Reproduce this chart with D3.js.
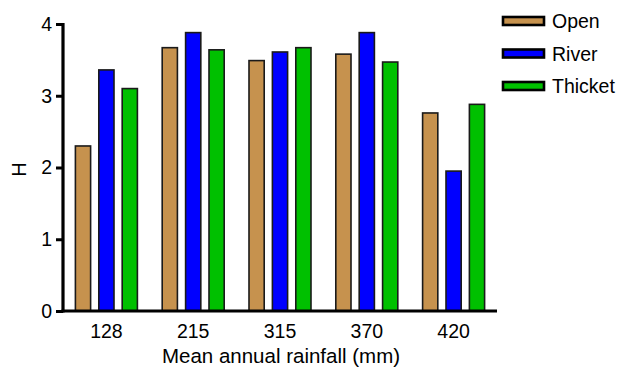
<!DOCTYPE html>
<html>
<head>
<meta charset="utf-8">
<script src="https://cdn.jsdelivr.net/npm/d3@7"></script>
<style>
  body { margin: 0; background: #fff; }
  svg text { font-family: "Liberation Sans", Arial, sans-serif; fill: #000; }
</style>
</head>
<body>
<svg id="chart" width="618" height="367"></svg>
<script>
// rainfall categories and diversity (H) per habitat
var categories = ['128', '215', '315', '370', '420'];
var seriesNames = ['Open', 'River', 'Thicket'];
var openValues = [2.30, 3.67, 3.49, 3.58, 2.76];
var riverValues = [3.36, 3.88, 3.61, 3.88, 1.95];
var thicketValues = [3.10, 3.64, 3.67, 3.47, 2.88];
var yTicks = [0, 1, 2, 3, 4];
var colors = ['#C6924E', '#0000FF', '#00C000'];

var seriesValues = [openValues, riverValues, thicketValues];

var
svg = d3.select('#chart'),
plotLeft = 63,
plotRight = 497,
plotTop = 24,
plotBottom = 311;

var x0 = d3.scaleBand().domain(categories).range([plotLeft, plotRight]).padding(0);
var x1 = d3.scaleBand().domain(seriesNames)
    .range([x0.bandwidth() / 2 - 31, x0.bandwidth() / 2 + 31])
    .paddingInner(0.35).paddingOuter(0);
var y = d3.scaleLinear().domain([0, 4]).range([plotBottom, plotTop]);
var color = d3.scaleOrdinal().domain(seriesNames).range(colors);

// bars
var groups = svg.append('g').selectAll('g')
    .data(categories)
    .enter().append('g')
    .attr('transform', function (d) { return 'translate(' + x0(d) + ',0)'; });

groups.selectAll('rect')
    .data(function (d, i) {
        return seriesNames.map(function (s, j) { return {key: s, value: seriesValues[j][i]}; });
    })
    .enter().append('rect')
    .attr('x', function (d) { return x1(d.key); })
    .attr('width', x1.bandwidth())
    .attr('y', function (d) { return y(d.value); })
    .attr('height', function (d) { return y(0) - y(d.value); })
    .attr('fill', function (d) { return color(d.key); })
    .attr('stroke', '#1a1a1a')
    .attr('stroke-width', 1.6);

// y axis
var yAxis = svg.append('g')
    .attr('transform', 'translate(' + plotLeft + ',0)')
    .call(d3.axisLeft(y).tickValues(yTicks).tickFormat(d3.format('d')).tickSize(7).tickPadding(4));
yAxis.select('.domain').attr('stroke', '#000').attr('stroke-width', 3.2)
    .attr('d', 'M0,' + (plotTop - 1) + 'V' + (plotBottom + 1.5));
yAxis.selectAll('.tick line').attr('stroke', '#000').attr('stroke-width', 3);
yAxis.selectAll('.tick text').attr('font-size', 19.5).style('font-family', '"Liberation Sans", Arial, sans-serif');

// x axis
var xAxis = svg.append('g')
    .attr('transform', 'translate(0,' + plotBottom + ')')
    .call(d3.axisBottom(x0).tickSize(0).tickPadding(13));
xAxis.select('.domain').attr('stroke', '#000').attr('stroke-width', 3.2)
    .attr('d', 'M' + (plotLeft - 1.5) + ',0H' + plotRight);
xAxis.selectAll('.tick text').attr('font-size', 19.5).style('font-family', '"Liberation Sans", Arial, sans-serif');

// axis titles
svg.append('text')
    .attr('x', 281)
    .attr('y', 363)
    .attr('text-anchor', 'middle')
    .attr('font-size', 20.5)
    .text('Mean annual rainfall (mm)');

svg.append('text')
    .attr('transform', 'translate(26,' + ((plotTop + plotBottom) / 2 + 2) + ') rotate(-90)')
    .attr('text-anchor', 'middle')
    .attr('font-size', 20)
    .text('H');

// legend
var legend = svg.append('g').selectAll('g')
    .data(seriesNames)
    .enter().append('g')
    .attr('transform', function (d, i) { return 'translate(503,' + (17 + i * 32.5) + ')'; });

legend.append('rect')
    .attr('width', 41)
    .attr('height', 8)
    .attr('fill', function (d) { return color(d); })
    .attr('stroke', '#000')
    .attr('stroke-width', 2.6);

legend.append('text')
    .attr('x', 49)
    .attr('y', 4)
    .attr('dy', '0.36em')
    .attr('font-size', 19.5)
    .text(function (d) { return d; });
</script>
</body>
</html>
